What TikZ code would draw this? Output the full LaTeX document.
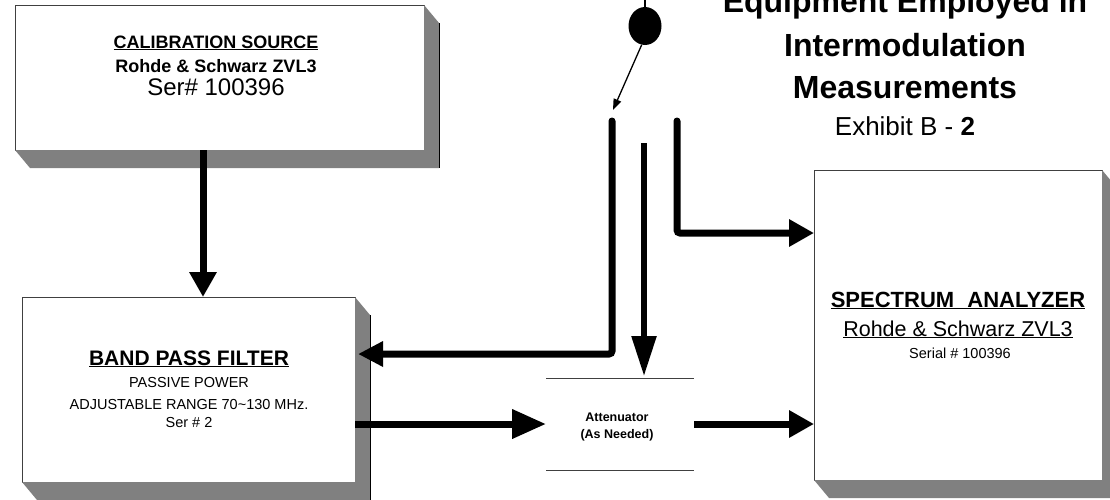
\documentclass[tikz,border=0pt]{standalone}
\usepackage{fontspec}
\setmainfont{Liberation Sans}
\usetikzlibrary{arrows.meta,shapes.geometric}
\newcommand{\fsz}[1]{\fontsize{#1}{#1}\selectfont}
\tikzset{
  panel/.style={draw=black!75, line width=0.8pt, fill=white, inner sep=0pt, outer sep=0pt},
  shade/.style={fill=black!50},
  wire/.style={line width=7pt},
  thinwire/.style={line width=5.5pt},
  head/.style={-{Triangle[length=25pt,width=26pt]}}
}
\begin{document}
\begin{tikzpicture}[x=1pt,y=-1pt]
\useasboundingbox (0,0) rectangle (1110,499);
% equipment boxes
\node[panel, minimum width=409pt, minimum height=145pt] (calib) at (219.5,77.5) {};
\node[panel, minimum width=333pt, minimum height=185pt] (bpf) at (188.5,389.5) {};
\node[panel, minimum width=288pt, minimum height=310pt] (sa) at (958,325) {};
\node[inner sep=0pt, outer sep=0pt, minimum width=148pt, minimum height=92pt] (att) at (620,424) {};
\draw[line width=0.8pt, black!75] (att.north west) -- (att.north east) (att.south west) -- (att.south east);
\foreach \b in {calib,bpf,sa}{
  \fill[shade] (\b.north east) -- ++(15,18) -- ([shift={(15,18)}]\b.south east)
    -- ([shift={(15,18)}]\b.south west) -- (\b.south west) -- (\b.south east) -- cycle;
  \draw[line width=1pt] ([shift={(15,18)}]\b.north east) -- ([shift={(15,18)}]\b.south east);
}
% box texts
\node[anchor=base, font=\bfseries\fsz{18}] (calibname) at (216,48) {\underline{CALIBRATION SOURCE}};
\node[anchor=base, font=\bfseries\fsz{18}] (calibmodel) at (216,72) {Rohde \& Schwarz ZVL3};
\node[anchor=base, font=\fsz{24}] (calibser) at (216,95) {Ser\# 100396};
\node[anchor=base, font=\bfseries\fsz{21}] (bpfname) at (189,365) {\underline{BAND PASS FILTER}};
\node[anchor=base, font=\fsz{14.5}] (bpfkind) at (189,387) {PASSIVE POWER};
\node[anchor=base, font=\fsz{14.5}] (bpfrange) at (189,409) {ADJUSTABLE RANGE 70\textasciitilde130 MHz.};
\node[anchor=base, font=\fsz{14.5}] (bpfser) at (189,427) {Ser \# 2};
\node[anchor=base, font=\bfseries\fsz{22}] (saname) at (958,307) {\underline{SPECTRUM\hspace{0.6em}ANALYZER}};
\node[anchor=base, font=\fsz{21.5}] (samodel) at (958,336) {\underline{Rohde \& Schwarz ZVL3}};
\node[anchor=base, font=\fsz{14.5}] (saser) at (960,358) {Serial \# 100396};
\node[anchor=base, font=\bfseries\fsz{12.5}] (attname) at (617,421) {Attenuator};
\node[anchor=base, font=\bfseries\fsz{12.5}] (attnote) at (617,438) {(As Needed)};
% title
\node[anchor=base, font=\bfseries\fsz{32}] (title1) at (905,12) {Equipment Employed in};
\node[anchor=base, font=\bfseries\fsz{32}] (title2) at (905,56) {Intermodulation};
\node[anchor=base, font=\bfseries\fsz{32}] (title3) at (905,98) {Measurements};
\node[anchor=base, font=\fsz{26}] (exhibit) at (905,135) {Exhibit B - \textbf{2}};
% probe
\node[ellipse, fill=black, minimum width=33pt, minimum height=38pt, inner sep=0pt] (probe) at (645,26) {};
\draw[line width=2.5pt] (probe.north) -- ++(0,-8);
\coordinate (probetip) at (613,110);
\draw[line width=1.3pt, -{Triangle[length=11pt,width=8pt]}] (probe.260) -- (probetip);
% connections
\coordinate (tapA) at (612,121);
\coordinate (tapB) at (644,143);
\coordinate (tapC) at (677,121);
\coordinate (drop) at ([xshift=-16.5pt]calib.south);
\draw[wire, head] (drop) -- (drop |- bpf.north);
\draw[wire, line cap=round, rounded corners=3pt, -{Triangle[length=25pt,width=24pt]}] (tapA) |- ([shift={(3,-35.5)}]bpf.east);
\draw[thinwire, -{Triangle[length=40pt,width=24pt]}] (tapB) -- ([yshift=2pt]tapB |- att.north);
\draw[wire, line cap=round, rounded corners=3pt, head] (tapC) |- ([yshift=92pt]sa.west);
\draw[wire, -{Triangle[length=34pt,width=28pt]}] (bpf.east |- att.west) -- (att.west);
\draw[wire, head] (att.east) -- (sa.west |- att.east);
\end{tikzpicture}
\end{document}
